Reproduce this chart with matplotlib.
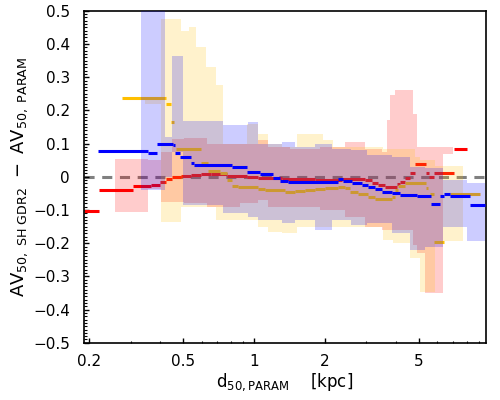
import numpy as np
import matplotlib.pyplot as plt
from matplotlib.ticker import FixedLocator, FixedFormatter, MultipleLocator, LogLocator, NullFormatter


""" values read off the reference picture (x in kpc, y in mag) """

# running median, bin edges + value per bin
red_edges = [0.19, 0.22, 0.306, 0.364, 0.401, 0.422, 0.450, 0.488, 0.539, 0.594, 0.655,
             0.768, 0.934, 1.04, 1.315, 1.816, 2.37, 2.96, 3.16, 3.36, 3.60, 4.03, 4.17,
             4.38, 4.59, 4.83, 5.36, 5.55, 5.81, 7.06, 8.0]
red_med = [-0.104, -0.041, -0.029, -0.025, -0.015, -0.007, -0.002, 0.003, 0.006, 0.009,
           0.007, 0.003, 0.0, -0.004, -0.008, -0.009, -0.007, -0.010, -0.018, -0.026,
           -0.030, -0.022, -0.015, -0.003, 0.010, 0.040, 0.010, -0.002, 0.010, 0.083]

blue_edges = [0.218, 0.355, 0.386, 0.454, 0.464, 0.485, 0.539, 0.556, 0.806, 0.934, 1.06,
              1.20, 1.29, 1.39, 2.27, 2.39, 2.60, 2.87, 3.05, 3.26, 3.48, 3.84, 4.17, 4.90,
              5.65, 6.16, 6.42, 6.79, 8.24, 9.56]
blue_med = [0.079, 0.073, 0.100, 0.095, 0.073, 0.059, 0.041, 0.035, 0.030, 0.015, 0.008,
            -0.005, -0.012, -0.016, -0.008, -0.012, -0.018, -0.025, -0.030, -0.038, -0.047,
            -0.050, -0.055, -0.058, -0.082, -0.058, -0.053, -0.058, -0.085]

gold_edges = [0.275, 0.425, 0.445, 0.460, 0.465, 0.594, 0.638, 0.717, 0.768, 0.806, 0.855,
              1.04, 1.113, 1.354, 1.493, 1.646, 1.816, 2.0, 2.274, 2.435, 2.553, 2.76, 3.05,
              3.26, 3.84, 3.97, 4.09, 4.38, 5.38, 5.48, 5.59, 5.81, 6.42, 6.79, 9.09]
gold_med = [0.236, 0.218, 0.164, np.nan, 0.083, 0.043, 0.018, 0.010, -0.010, -0.028,
            -0.032, -0.037, -0.040, -0.045, -0.042, -0.040, -0.037, -0.034, -0.032, -0.035,
            -0.045, -0.053, -0.060, -0.067, -0.060, -0.040, -0.028, -0.020, -0.035, np.nan,
            -0.053, -0.196, np.nan, -0.053]

# 16-84 percentile bands
red_band_edges = [0.257, 0.289, 0.355, 0.403, 0.449, 0.504, 0.632, 0.872, 1.04, 1.147, 1.421,
                  1.905, 2.435, 2.96, 3.50, 3.67, 3.77, 3.97, 4.73, 4.92, 5.32, 6.35, 7.0]
red_hi = [0.053, 0.053, 0.05, 0.075, 0.114, 0.116, 0.10, 0.10, 0.11, 0.09, 0.085, 0.09,
          0.105, 0.085, 0.075, 0.17, 0.246, 0.26, 0.19, 0.09, 0.09, 0.09]
red_lo = [-0.105, -0.105, -0.037, -0.075, -0.075, -0.08, -0.09, -0.08, -0.07, -0.09, -0.09,
          -0.10, -0.12, -0.15, -0.16, -0.16, -0.16, -0.16, -0.205, -0.23, -0.35, 0.07]

blue_band_edges = [0.331, 0.419, 0.449, 0.500, 0.739, 0.943, 1.04, 1.315, 1.493, 1.816,
                   2.144, 2.58, 3.02, 3.85, 4.59, 5.32, 6.35, 8.03, 9.57]
blue_hi = [0.75, 0.12, 0.363, 0.168, 0.155, 0.166, 0.10, 0.105, 0.09, 0.10, 0.085, 0.08,
           0.065, 0.06, 0.03, 0.026, -0.01, -0.018]
blue_lo = [-0.04, 0.0, 0.075, -0.085, -0.11, -0.12, -0.13, -0.14, -0.13, -0.16, -0.13,
           -0.145, -0.14, -0.17, -0.22, -0.21, -0.15, -0.194]

gold_band_edges = [0.344, 0.403, 0.490, 0.530, 0.567, 0.625, 0.690, 0.739, 0.934, 1.04,
                   1.147, 1.315, 1.522, 1.963, 2.165, 3.53, 3.89, 4.59, 4.83, 5.06, 5.87, 7.72]
gold_hi = [0.236, 0.475, 0.44, 0.45, 0.39, 0.33, 0.276, 0.10, 0.16, 0.13, 0.10, 0.09, 0.13,
           0.11, 0.09, 0.085, 0.083, 0.083, 0.06, 0.05, 0.033]
gold_lo = [0.218, -0.136, -0.09, -0.09, -0.09, -0.09, -0.13, -0.13, -0.13, -0.15, -0.165,
           -0.17, -0.15, -0.15, -0.15, -0.19, -0.20, -0.245, -0.245, -0.346, -0.194]

yticks = [-0.5, -0.4, -0.3, -0.2, -0.1, 0, 0.1, 0.2, 0.3, 0.4, 0.5]
ytick_labels = ['\u22120.5', '\u22120.4', '\u22120.3', '\u22120.2', '\u22120.1', '0',
                '0.1', '0.2', '0.3', '0.4', '0.5']
xticks = [0.2, 0.5, 1, 2, 5]
xtick_labels = ['0.2', '0.5', '1', '2', '5']


def draw(ax, edges, med, bedges, lo, hi, color, z):
    """median as separate horizontal bars, band as a stepped fill on top"""
    e = np.asarray(edges)
    ax.hlines(med, e[:-1], e[1:], color=color, lw=2.2, zorder=z)
    be = np.asarray(bedges)
    ax.fill_between(be, list(lo) + [lo[-1]], list(hi) + [hi[-1]], step='post',
                    color=color, alpha=0.2, lw=0, zorder=z + 0.5)


fig = plt.figure(figsize=(5, 4), dpi=100)
ax = fig.add_axes([0.168, 0.143, 0.804, 0.830])

ax.axhline(0, color='grey', lw=2.2, ls=(0, (3.3, 2.5)), zorder=1)
draw(ax, red_edges, red_med, red_band_edges, red_lo, red_hi, '#ff0000', 2)
draw(ax, gold_edges, gold_med, gold_band_edges, gold_lo, gold_hi, '#ffbf00', 3)
draw(ax, blue_edges, blue_med, blue_band_edges, blue_lo, blue_hi, '#0000ff', 4)

ax.set_xscale('log')
ax.set_xlim(0.19, 9.65)
ax.set_ylim(-0.5, 0.5)

ax.xaxis.set_major_locator(FixedLocator(xticks))
ax.xaxis.set_major_formatter(FixedFormatter(xtick_labels))
ax.xaxis.set_minor_locator(LogLocator(base=10, subs=np.arange(2, 10) * 1.0, numticks=20))
ax.xaxis.set_minor_formatter(NullFormatter())
ax.yaxis.set_major_locator(FixedLocator(yticks))
ax.yaxis.set_major_formatter(FixedFormatter(ytick_labels))
ax.yaxis.set_minor_locator(MultipleLocator(0.01))

ax.tick_params(which='both', direction='in', top=False, right=False, labelsize=11)
ax.tick_params(which='major', length=3.5, width=1)
ax.tick_params(which='minor', length=1.8, width=0.8)
ax.tick_params(axis='y', pad=10)
ax.tick_params(axis='x', pad=8)
for s in ax.spines.values():
    s.set_linewidth(1.2)

ax.set_xlabel(r'$\mathregular{d_{50,PARAM}}$    [kpc]', fontsize=12, labelpad=2)
ax.set_ylabel(r'$\mathregular{AV_{50,\ SH\ GDR2}\ -\ AV_{50,\ PARAM}}$', fontsize=13,
              labelpad=2)

plt.savefig('out.png', dpi=100)
